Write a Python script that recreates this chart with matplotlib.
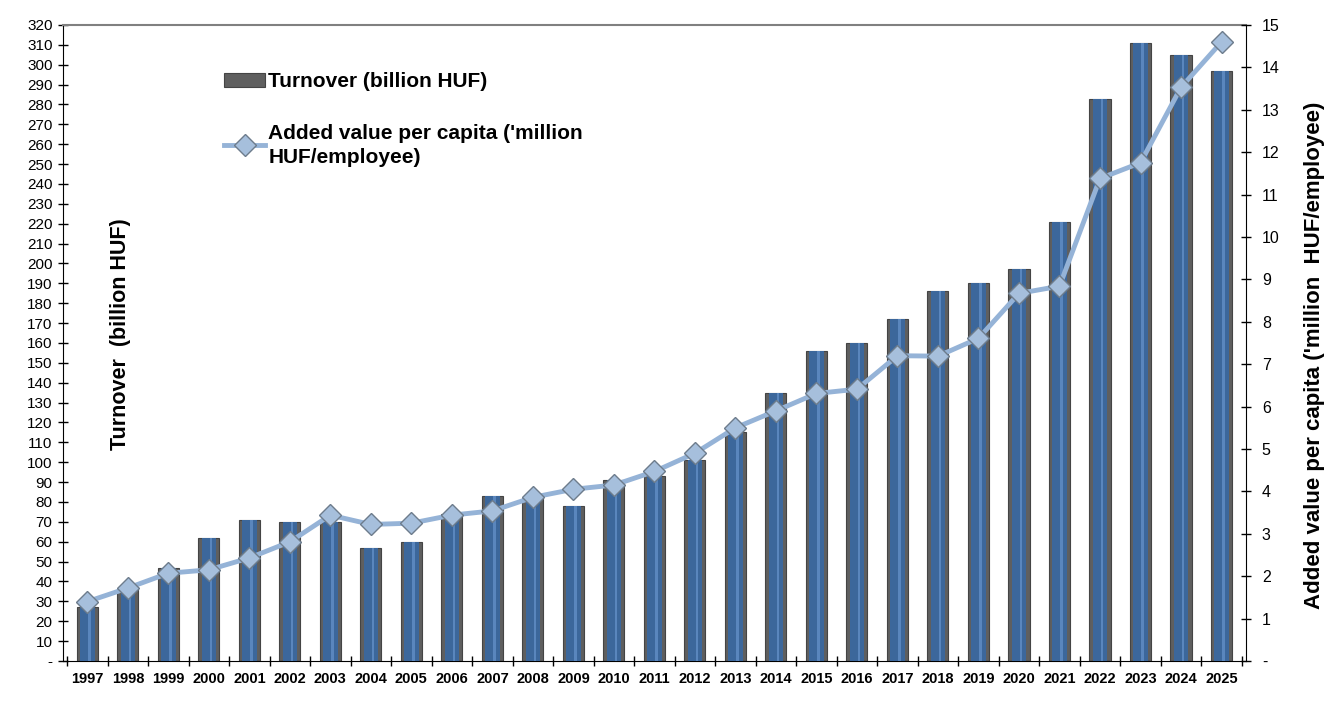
import numpy as np
import matplotlib.pyplot as plt
from matplotlib.ticker import FixedLocator

plt.rcParams['font.family'] = ['Liberation Sans', 'DejaVu Sans']

years = [str(y) for y in range(1997, 2026)]
turnover = [27, 36, 47, 62, 71, 70, 70, 57, 60, 74, 83, 82, 78, 91, 93, 101,
            115, 135, 156, 160, 172, 186, 190, 197, 221, 283, 311, 305, 297]
added_value = [1.4, 1.72, 2.07, 2.15, 2.43, 2.81, 3.44, 3.22, 3.25, 3.44, 3.54,
               3.86, 4.05, 4.15, 4.47, 4.9, 5.5, 5.9, 6.31, 6.41, 7.2, 7.19,
               7.61, 8.67, 8.84, 11.38, 11.75, 13.53, 14.6]

fig = plt.figure(figsize=(13.35, 7.04), dpi=100)
ax = fig.add_axes([0.0472, 0.0611, 0.886, 0.9034])
x = np.arange(len(years))

# bars: grey frame with blue inner face
bars = ax.bar(x, turnover, width=0.52, color='#5f5f5f', edgecolor='#444444', linewidth=0.8,
              label='Turnover (billion HUF)', zorder=2)
ax.bar(x, turnover, width=0.36, color='#3c679b', linewidth=0, zorder=3)
ax.bar(x + 0.05, turnover, width=0.06, color='#5a86bd', linewidth=0, zorder=3)

ax.set_xlim(-0.6, len(years) - 0.4)
ax.set_ylim(0, 320)
ax.set_yticks(range(0, 321, 10))
ax.set_yticklabels(['-'] + [str(v) for v in range(10, 321, 10)], fontsize=11)
ax.set_xticks(x)
ax.set_xticklabels(years, fontsize=10.5, fontweight='bold')
ax.xaxis.set_minor_locator(FixedLocator(np.arange(-0.5, len(years), 1)))
ax.tick_params(axis='x', which='major', length=0, pad=8)
ax.tick_params(axis='x', which='minor', length=7, direction='inout', width=1)
ax.tick_params(axis='y', length=7, direction='inout', width=1, pad=4)
ax.spines['top'].set_color('#808080')
ax.spines['top'].set_linewidth(1.5)
ax.spines['right'].set_visible(False)

fig.text(0.09, 0.525, 'Turnover  (billion HUF)', rotation=90, fontsize=15.5,
         fontweight='bold', ha='center', va='center')

ax2 = ax.twinx()
line, = ax2.plot(x, added_value, color='#95b3d7', linewidth=3.5, marker='D',
                 markersize=11, markerfacecolor='#a6bfdc', markeredgecolor='#6d7c8c',
                 markeredgewidth=1, zorder=5)
ax2.set_ylim(0, 15)
ax2.set_yticks(range(0, 16))
ax2.set_yticklabels(['-'] + [str(v) for v in range(1, 16)], fontsize=11.5)
ax2.tick_params(axis='y', length=7, direction='inout', width=1, pad=8)
ax2.spines['top'].set_visible(False)
ax2.spines['left'].set_visible(False)
ax2.spines['bottom'].set_visible(False)

fig.text(0.985, 0.496, "Added value per capita ('million  HUF/employee)", rotation=90,
         fontsize=16, fontweight='bold', ha='center', va='center')

leg = ax.legend([bars, line], ['Turnover (billion HUF)',
                               "Added value per capita ('million\nHUF/employee)"],
                loc='upper left', bbox_to_anchor=(0.12, 0.955), frameon=False,
                prop={'size': 15, 'weight': 'bold'}, handlelength=2.0,
                handletextpad=0.15, labelspacing=1.55)
for t in leg.get_texts():
    t.set_linespacing(1.35)

fig.savefig('out.png', dpi=100)
